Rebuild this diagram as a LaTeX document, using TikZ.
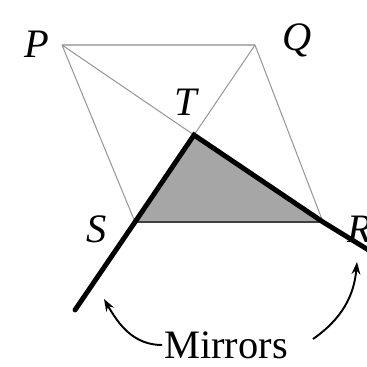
\documentclass[tikz,border=0pt]{standalone}
\usepackage{fontspec}
\setmainfont{Liberation Serif}
\usetikzlibrary{arrows.meta}

\begin{document}
\begin{tikzpicture}[
  x=0.02cm, y=-0.02cm,
  thin line/.style={draw=black!40, line width=0.6pt},
  mirror/.style={line width=2.8pt, line cap=round},
  lbl/.style={font=\fontsize{23}{26}\selectfont\itshape},
  arr/.style={-{Stealth[length=7pt, width=5pt]}, line width=1.1pt}
]
  \useasboundingbox[clip] (0,0) rectangle (367,366);
  % corner points
  \coordinate (P) at (62,45);
  \coordinate (Q) at (255,45);
  \coordinate (R) at (323,222);
  \coordinate (S) at (135,222);
  \coordinate (T) at (194,135);
  \coordinate (m1) at (75,310);
  \coordinate (m2) at (375,254);

  % shaded triangle
  \fill[black!35] (S) -- (T) -- (R) -- cycle;
  \draw[black!75, line width=1.3pt] (S) -- (R);

  % parallelogram and diagonals
  \draw[draw=black!30, line width=1.2pt] (P) -- (Q);
  \draw[thin line] (P) -- (S) (Q) -- (R) (P) -- (T) -- (Q);

  % mirrors
  \draw[mirror] (m1) -- (S) -- (T) -- (R) -- (m2);

  % labels
  \node[lbl] (lp) at (37,44) {P};
  \node[lbl] (lq) at (297,40) {Q};
  \node[lbl] (lt) at (186,102) {T};
  \node[lbl] (ls) at (97,229) {S};
  \node[lbl] (lr) at (360,229) {R};
  \node[font=\fontsize{23}{26}\selectfont, inner sep=1pt] (mir) at (226,345) {Mirrors};

  \coordinate (a1) at (104,299);
  \coordinate (a2) at (357,262);
  \coordinate (b2) at (313,339);
  \draw[arr] (mir.west) to[out=180, in=-60] (a1);
  \draw[arr] (b2) to[out=35, in=-95] (a2);
\end{tikzpicture}
\end{document}
